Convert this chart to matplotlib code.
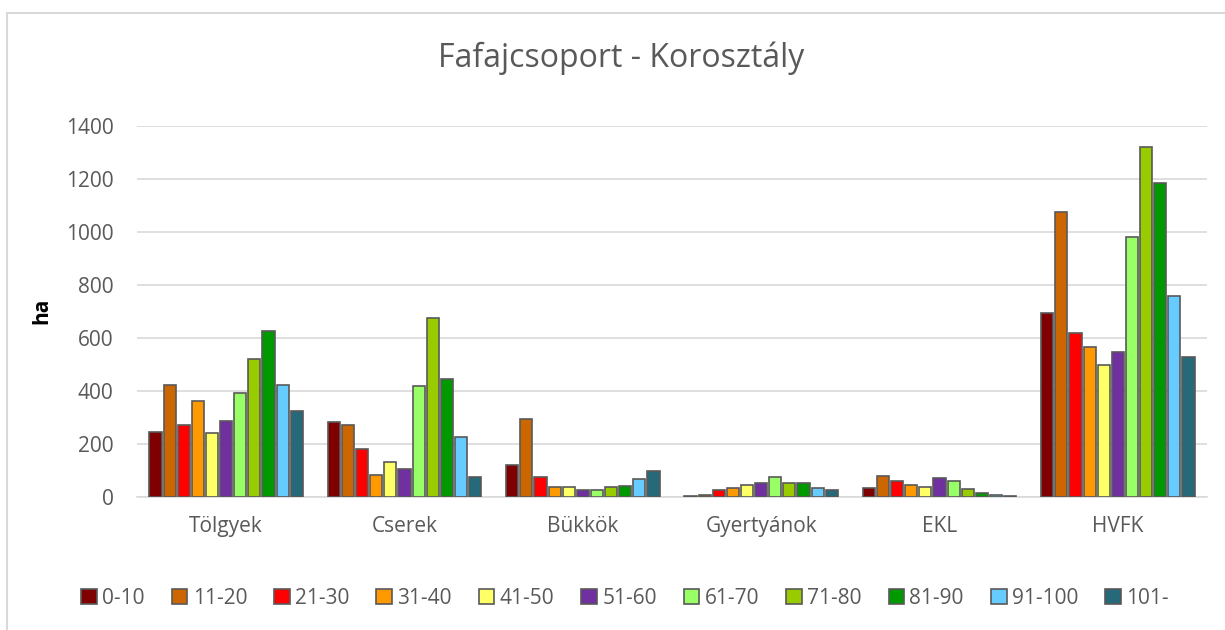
import numpy as np
import matplotlib.pyplot as plt
from matplotlib.patches import Rectangle

# adatok
groups = ['Tölgyek', 'Cserek', 'Bükkök', 'Gyertyánok', 'EKL', 'HVFK']
age_classes = ['0-10', '11-20', '21-30', '31-40', '41-50', '51-60',
               '61-70', '71-80', '81-90', '91-100', '101-']
colors = ['#7f0000', '#cc6600', '#ff0000', '#ff9900', '#ffff66', '#7030a0',
          '#99ff66', '#99cc00', '#009900', '#66ccff', '#266a7a']

v_0_10 = [247, 284, 120, 5, 35, 694]
v_11_20 = [424, 270, 295, 6, 78, 1075]
v_21_30 = [272, 180, 76, 28, 59, 618]
v_31_40 = [361, 84, 38, 35, 46, 565]
v_41_50 = [242, 131, 39, 46, 37, 497]
v_51_60 = [286, 107, 28, 53, 71, 547]
v_61_70 = [392, 420, 25, 77, 62, 980]
v_71_80 = [521, 675, 37, 54, 29, 1321]
v_81_90 = [628, 444, 42, 54, 14, 1186]
v_91_100 = [421, 225, 67, 33, 6, 757]
v_101 = [325, 77, 99, 27, 3, 529]

series = [v_0_10, v_11_20, v_21_30, v_31_40, v_41_50, v_51_60,
          v_61_70, v_71_80, v_81_90, v_91_100, v_101]

plt.rcParams['font.family'] = ['Open Sans', 'DejaVu Sans']
txt = '#595959'

fig = plt.figure(figsize=(12.25, 6.3), dpi=100)
ax = fig.add_axes([137 / 1225, 1 - 497 / 630, 1070 / 1225, 371 / 630])

# keret
fig.patches.append(Rectangle((7 / 1225, -0.1), 1.2, 1 - 13 / 630 + 0.1,
                             transform=fig.transFigure, fill=False,
                             edgecolor='#d9d9d9', lw=1.5))

x = np.arange(len(groups))
slot = 0.0792
w = 0.068
for i, (vals, c) in enumerate(zip(series, colors)):
    ax.bar(x + (i - 5) * slot, vals, width=w, color=c, edgecolor='#595959',
           linewidth=1.2, label=age_classes[i], zorder=3)

ax.set_xlim(-0.5, len(groups) - 0.5)
ax.set_ylim(0, 1400)
ax.set_yticks(range(0, 1401, 200))
ax.grid(axis='y', color='#d9d9d9', lw=1.2, zorder=0)
for s in ['top', 'right', 'left']:
    ax.spines[s].set_visible(False)
ax.spines['bottom'].set_color('#d9d9d9')
ax.spines['bottom'].set_linewidth(1.2)
ax.tick_params(length=0, colors=txt, labelsize=15)
ax.tick_params(axis='y', pad=17)
ax.tick_params(axis='x', pad=14)
ax.set_xticks(x)
ax.set_xticklabels(groups)

fig.text(42 / 1225, 1 - 311 / 630, 'ha', rotation=90, fontsize=15,
         fontweight='bold', color='black', ha='center', va='center')
fig.text(621 / 1225, 1 - 58 / 630, 'Fafajcsoport - Korosztály',
         fontsize=23, color=txt, ha='center', va='center')

fig.legend(loc='center', bbox_to_anchor=(625 / 1225, 1 - 598 / 630), ncol=11,
           frameon=False, fontsize=15, labelcolor=txt, handlelength=0.75,
           handleheight=0.75, handletextpad=0.25, columnspacing=1.3)

fig.savefig('out.png', dpi=100)
